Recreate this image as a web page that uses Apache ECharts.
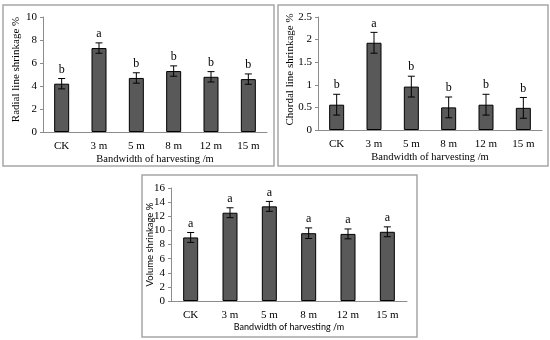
<!DOCTYPE html>
<html>
<head>
<meta charset="utf-8">
<script src="https://cdn.jsdelivr.net/npm/echarts@6/dist/echarts.min.js"></script>
<style>html,body{margin:0;padding:0;background:#fff}#c{width:550px;height:340px}</style>
</head>
<body>
<div id="c"></div>
<script>
const categories = ['CK', '3 m', '5 m', '8 m', '12 m', '15 m'];
const radialMean = [4.2, 7.3, 4.7, 5.3, 4.8, 4.6];
const radialErr = [0.45, 0.45, 0.45, 0.45, 0.45, 0.45];
const radialLetters = ['b', 'a', 'b', 'b', 'b', 'b'];
const chordalMean = [0.56, 1.93, 0.96, 0.5, 0.56, 0.49];
const chordalErr = [0.23, 0.23, 0.23, 0.23, 0.23, 0.23];
const chordalLetters = ['b', 'a', 'b', 'b', 'b', 'b'];
const volumeMean = [9.0, 12.5, 13.4, 9.6, 9.5, 9.8];
const volumeErr = [0.7, 0.7, 0.7, 0.75, 0.7, 0.7];
const volumeLetters = ['a', 'a', 'a', 'a', 'a', 'a'];
const xTitle = 'Bandwidth of harvesting /m';

const serif = 'Liberation Serif';
const sans = 'Lato';

function errSeries(idx, mean, err, letters) {
  return {
    type: 'custom', xAxisIndex: idx, yAxisIndex: idx, z: 5,
    encode: { x: 0, y: 1 },
    data: mean.map((m, i) => [i, m, err[i]]),
    renderItem: function (params, api) {
      const x = api.value(0), m = api.value(1), e = api.value(2);
      const t = api.coord([x, m + e]);
      const b = api.coord([x, m - e]);
      const c = 3.5;
      const st = { stroke: '#000', lineWidth: 1 };
      return {
        type: 'group', children: [
          { type: 'line', shape: { x1: t[0], y1: t[1], x2: b[0], y2: b[1] }, style: st },
          { type: 'line', shape: { x1: t[0] - c, y1: t[1], x2: t[0] + c, y2: t[1] }, style: st },
          { type: 'line', shape: { x1: b[0] - c, y1: b[1], x2: b[0] + c, y2: b[1] }, style: st },
          { type: 'text', style: { text: letters[params.dataIndex], x: t[0], y: t[1] - 3, align: 'center', verticalAlign: 'bottom', font: '12px "' + serif + '"', fill: '#000' } }
        ]
      };
    }
  };
}

function xAx(idx, titleFont) {
  return {
    type: 'category', gridIndex: idx, data: categories,
    axisLine: { lineStyle: { color: '#8c8c8c' } },
    axisTick: { length: 3, lineStyle: { color: '#8c8c8c' } },
    axisLabel: { color: '#000', fontFamily: serif, fontSize: 11, margin: 9 },
    name: xTitle, nameLocation: 'middle', nameGap: 22, nameMoveOverlap: false,
    nameTextStyle: { color: '#000', fontFamily: titleFont, fontSize: titleFont === serif ? 10.5 : 9 }
  };
}
function yAx(idx, max, interval, name, nameFont, gap, lift) {
  return {
    type: 'value', gridIndex: idx, min: 0, max: max, interval: interval,
    splitLine: { show: false },
    axisLine: { show: true, lineStyle: { color: '#8c8c8c' } },
    axisTick: { show: true, length: 3, lineStyle: { color: '#8c8c8c' } },
    axisLabel: { color: '#000', fontFamily: serif, fontSize: 11, margin: 6 },
    name: name, nameLocation: 'middle', nameGap: gap, nameRotate: 90, nameMoveOverlap: false,
    nameTextStyle: { color: '#000', fontFamily: nameFont, fontSize: nameFont === serif ? 11 : 9.5, verticalAlign: 'middle', padding: [0, 0, 0, lift] }
  };
}
function barSeries(idx, data) {
  return {
    type: 'bar', xAxisIndex: idx, yAxisIndex: idx, data: data, barWidth: 15,
    itemStyle: { color: '#595959', borderColor: '#000', borderWidth: 1 }
  };
}

const chart = echarts.init(document.getElementById('c'), null, { renderer: 'canvas' });
chart.setOption({
  backgroundColor: '#fff',
  animation: false,
  graphic: [
    { type: 'rect', shape: { x: 3, y: 5, width: 271, height: 161 }, style: { fill: 'none', stroke: '#a6a6a6', lineWidth: 1.5 }, z: -10 },
    { type: 'rect', shape: { x: 278, y: 5, width: 270, height: 161 }, style: { fill: 'none', stroke: '#a6a6a6', lineWidth: 1.5 }, z: -10 },
    { type: 'rect', shape: { x: 142, y: 175, width: 275, height: 162 }, style: { fill: 'none', stroke: '#a6a6a6', lineWidth: 1.5 }, z: -10 }
  ],
  grid: [
    { left: 43, top: 17, right: 283, bottom: 208 },
    { left: 318, top: 17, right: 8, bottom: 210 },
    { left: 171, top: 188, right: 143, bottom: 39 }
  ],
  xAxis: [xAx(0, serif), xAx(1, serif), xAx(2, sans)],
  yAxis: [
    yAx(0, 10, 2, 'Radial line shrinkage %', serif, 27, 10),
    yAx(1, 2.5, 0.5, 'Chordal line shrinkage %', serif, 28, 8),
    yAx(2, 16, 2, 'Volume shrinkage %', sans, 21, 0)
  ],
  series: [
    barSeries(0, radialMean), errSeries(0, radialMean, radialErr, radialLetters),
    barSeries(1, chordalMean), errSeries(1, chordalMean, chordalErr, chordalLetters),
    barSeries(2, volumeMean), errSeries(2, volumeMean, volumeErr, volumeLetters)
  ]
});
</script>
</body>
</html>
